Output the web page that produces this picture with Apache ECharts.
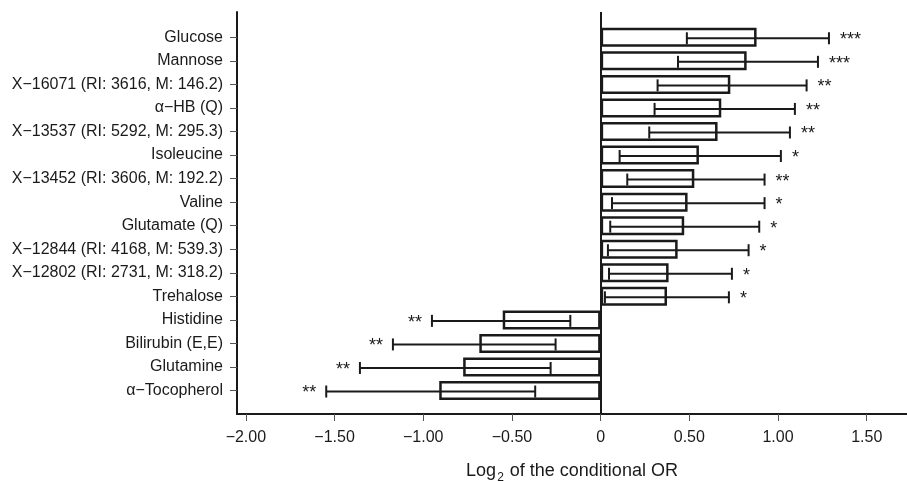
<!DOCTYPE html>
<html>
<head>
<meta charset="utf-8">
<script src="https://cdn.jsdelivr.net/npm/echarts@6/dist/echarts.min.js"></script>
<style>html,body{margin:0;padding:0;background:#fff}#c{width:907px;height:482px}</style>
</head>
<body>
<div id="c"></div>
<script>
const categories = ["Glucose","Mannose","X\u221216071 (RI: 3616, M: 146.2)","\u03b1\u2212HB (Q)","X\u221213537 (RI: 5292, M: 295.3)","Isoleucine","X\u221213452 (RI: 3606, M: 192.2)","Valine","Glutamate (Q)","X\u221212844 (RI: 4168, M: 539.3)","X\u221212802 (RI: 2731, M: 318.2)","Trehalose","Histidine","Bilirubin (E,E)","Glutamine","\u03b1\u2212Tocopherol"];
const logOR = [0.879,0.823,0.731,0.680,0.659,0.554,0.528,0.490,0.471,0.434,0.383,0.374,-0.552,-0.684,-0.775,-0.910];
const ciLow = [0.486,0.436,0.321,0.304,0.274,0.107,0.150,0.064,0.054,0.041,0.047,0.024,-0.951,-1.171,-1.357,-1.547];
const ciHigh = [1.287,1.225,1.161,1.095,1.067,1.016,0.924,0.924,0.894,0.834,0.740,0.723,-0.171,-0.254,-0.282,-0.369];
const stars = ["***","***","**","**","**","*","**","*","*","*","*","*","**","**","**","**"];
const xTicks = [-2,-1.5,-1,-0.5,0,0.5,1,1.5];
const refLine = 0;
const xMin = -2.05, xMax = 1.727;

const FONT = "'Liberation Sans', Arial, Helvetica, sans-serif";
const INK = '#1a1a1a';

const errData = categories.map((c,i)=>[i, ciLow[i], ciHigh[i], logOR[i]]);

function fmt(v){ if (Math.abs(v) < 1e-9) return '0'; const s = Math.abs(v).toFixed(2); return (v<0?'\u2212':'') + s; }

const chart = echarts.init(document.getElementById('c'), null, {renderer:'canvas'});
chart.setOption({
  animation: false,
  backgroundColor: '#fff',
  grid: [
    {left: 237, right: 0, top: 25.5, height: 376.8, outerBoundsMode: 'none', containLabel: false},
    {left: 237, right: 0, top: 12, height: 402, outerBoundsMode: 'none', containLabel: false}
  ],
  xAxis: [
    {gridIndex: 0, type: 'value', min: xMin, max: xMax, show: false, splitLine:{show:false}},
    {gridIndex: 1, type: 'value', min: xMin, max: xMax,
     axisLine: {show: true, onZero: false, lineStyle: {color: INK, width: 2}},
     axisTick: {show: true, inside: false, length: 7, lineStyle: {color: '#555', width: 1}, customValues: xTicks},
     axisLabel: {show: true, customValues: xTicks, formatter: fmt, fontSize: 16, fontFamily: FONT, color: INK, margin: 16},
     splitLine: {show: false},
     name: '{a|Log}{s|2}{a| of the conditional OR}',
     nameLocation: 'middle', nameGap: 45,
     nameTextStyle: {fontFamily: FONT, color: INK, rich: {
       a: {fontSize: 18, fontFamily: FONT, color: INK},
       s: {fontSize: 12, fontFamily: FONT, color: INK, padding: [13,1,0,1]}
     }}
    }
  ],
  yAxis: [
    {gridIndex: 0, type: 'category', data: categories, inverse: true,
     axisLine: {show: false, onZero: false},
     axisTick: {show: true, alignWithLabel: true, length: 7, lineStyle: {color: '#555', width: 1}},
     axisLabel: {fontSize: 16, fontFamily: FONT, color: INK, margin: 14},
     splitLine: {show: false}
    },
    {gridIndex: 1, type: 'value', min: 0, max: 1,
     axisLine: {show: true, onZero: false, lineStyle: {color: INK, width: 2}},
     axisTick: {show: false}, axisLabel: {show: false}, splitLine: {show: false}
    }
  ],
  series: [
    {type: 'bar', xAxisIndex: 0, yAxisIndex: 0, data: logOR, barWidth: 19,
     itemStyle: {color: '#fff', borderColor: INK, borderWidth: 2.5}, silent: true},
    {type: 'custom', xAxisIndex: 0, yAxisIndex: 0, data: errData, z: 5,
     renderItem: function(params, api){
       const idx = api.value(0), lo = api.value(1), hi = api.value(2), v = api.value(3);
       const pL = api.coord([lo, idx]);
       const pH = api.coord([hi, idx]);
       const y = pL[1] + 1;
       const cap = 6;
       const st = {stroke: INK, lineWidth: 2};
       const lab = stars[params.dataIndex];
       const pos = v >= 0;
       return {type: 'group', children: [
         {type: 'line', shape: {x1: pL[0], y1: y, x2: pH[0], y2: y}, style: st},
         {type: 'line', shape: {x1: pL[0], y1: y-cap, x2: pL[0], y2: y+cap}, style: st},
         {type: 'line', shape: {x1: pH[0], y1: y-cap, x2: pH[0], y2: y+cap}, style: st},
         {type: 'text', x: pos ? pH[0] + 11 : pL[0] - 10, y: y + 2,
          style: {text: lab, fill: INK, font: '18px ' + FONT, align: pos ? 'left' : 'right', verticalAlign: 'middle'}}
       ]};
     }
    },
    {type: 'line', xAxisIndex: 1, yAxisIndex: 1, data: [], silent: true,
     markLine: {silent: true, symbol: ['none','none'], label: {show: false},
       lineStyle: {color: INK, width: 2, type: 'solid'},
       data: [{xAxis: refLine}]}
    }
  ]
});
</script>
</body>
</html>
